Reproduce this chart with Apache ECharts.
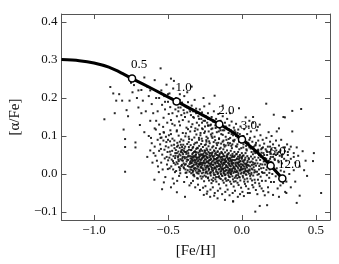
<!DOCTYPE html>
<html><head><meta charset="utf-8">
<script src="https://cdn.jsdelivr.net/npm/echarts@6/dist/echarts.min.js"></script>
<style>html,body{margin:0;padding:0;background:#fff}#c{width:339px;height:264px}</style>
</head><body><div id="c"></div>
<script>
// Model curve (thick black line)
const curveFeH   = [-1.22, -1.1, -1.0, -0.9, -0.8, -0.743, -0.6, -0.442, -0.3, -0.153, -0.07, 0.0, 0.1, 0.194, 0.273];
const curveAlpha = [0.301, 0.298, 0.292, 0.281, 0.263, 0.251, 0.223, 0.191, 0.162, 0.131, 0.112, 0.091, 0.058, 0.022, -0.012];
// Labelled time markers on the curve
const markFeH    = [-0.743, -0.442, -0.153, 0.0, 0.194, 0.273];
const markAlpha  = [0.251, 0.191, 0.131, 0.091, 0.022, -0.012];
const markLabels = ['0.5', '1.0', '2.0', '3.0', '6.0', '12.0'];
// Tick values
const xTickValues = [-1.0, -0.5, 0.0, 0.5];
const yTickValues = [-0.1, 0.0, 0.1, 0.2, 0.3, 0.4];
// Stars ([Fe/H], [alpha/Fe])
const starsCore = [
[-0.63,0.10],[-0.62,0.062],[-0.61,0.081],[-0.64,0.045],[-0.605,0.03],[-0.615,0.095],
[-0.59,0.072],[-0.585,0.048],[-0.57,0.09],[-0.592,-0.015],[-0.56,0.061],[-0.575,0.035],[-0.555,0.105],[-0.568,0.02],[-0.582,0.117],[-0.553,0.078],[-0.597,0.055],[-0.562,0.005],
[-0.54,-0.04],[-0.548,0.066],[-0.531,0.088],[-0.522,0.041],[-0.515,0.073],[-0.507,0.025],[-0.536,0.012],[-0.544,0.096],[-0.503,0.058],[-0.527,0.109],[-0.518,-0.008],[-0.511,0.084],[-0.539,0.051],[-0.546,0.03],[-0.501,0.013],[-0.524,0.064],[-0.533,0.124],[-0.509,0.045],[-0.514,0.098],[-0.528,-0.022],
[-0.48,-0.035],[-0.497,0.07],[-0.491,0.043],[-0.486,0.086],[-0.478,0.02],[-0.472,0.061],[-0.466,0.034],[-0.459,0.077],[-0.453,0.005],[-0.494,0.102],[-0.482,0.051],[-0.47,0.093],[-0.463,0.047],[-0.456,0.068],[-0.489,0.015],[-0.475,0.038],[-0.468,-0.012],[-0.451,0.055],[-0.484,0.115],[-0.461,0.029],[-0.457,0.088],[-0.499,0.036],[-0.476,0.075],[-0.465,0.012],[-0.452,0.042],[-0.487,0.059],[-0.471,0.132],[-0.46,-0.025],
[-0.44,-0.048],[-0.447,0.063],[-0.442,0.031],[-0.437,0.082],[-0.431,0.047],[-0.426,0.018],[-0.421,0.069],[-0.416,0.039],[-0.411,0.091],[-0.406,0.024],[-0.402,0.056],[-0.445,0.008],[-0.439,0.072],[-0.433,0.044],[-0.428,0.101],[-0.423,0.052],[-0.418,0.015],[-0.413,0.077],[-0.408,0.036],[-0.404,0.064],[-0.449,0.048],[-0.435,0.027],[-0.43,0.059],[-0.425,-0.005],[-0.42,0.085],[-0.415,0.049],[-0.41,0.021],[-0.405,0.071],[-0.441,0.112],[-0.427,0.034],[-0.419,0.128],[-0.412,0.058],[-0.438,-0.018],[-0.403,0.041],[-0.432,0.075],[-0.417,0.002],
[-0.385,-0.06],[-0.398,0.052],[-0.394,0.028],[-0.39,0.067],[-0.386,0.041],[-0.382,0.012],[-0.378,0.058],[-0.374,0.033],[-0.37,0.079],[-0.366,0.021],[-0.362,0.049],[-0.358,0.064],[-0.354,0.006],[-0.396,0.088],[-0.392,0.015],[-0.388,0.045],[-0.384,0.072],[-0.38,0.026],[-0.376,0.053],[-0.372,-0.008],[-0.368,0.061],[-0.364,0.037],[-0.36,0.084],[-0.356,0.019],[-0.352,0.047],[-0.399,0.035],[-0.391,-0.021],[-0.383,0.099],[-0.375,0.044],[-0.367,0.01],[-0.359,0.071],[-0.351,0.031],[-0.393,0.061],[-0.379,0.107],[-0.363,0.055],[-0.355,-0.03],[-0.387,0.024],[-0.371,0.038],[-0.357,0.092],[-0.381,0.003],[-0.365,0.118],[-0.397,0.077],
[-0.348,0.041],[-0.345,0.018],[-0.342,0.063],[-0.339,0.029],[-0.336,0.052],[-0.333,0.004],[-0.33,0.071],[-0.327,0.036],[-0.324,0.058],[-0.321,0.013],[-0.318,0.047],[-0.315,0.082],[-0.312,0.025],[-0.309,0.066],[-0.306,0.039],[-0.303,-0.011],[-0.347,0.076],[-0.344,-0.024],[-0.341,0.046],[-0.338,0.09],[-0.335,0.021],[-0.332,0.055],[-0.329,-0.003],[-0.326,0.043],[-0.323,0.078],[-0.32,0.031],[-0.317,0.06],[-0.314,0.009],[-0.311,0.051],[-0.308,0.104],[-0.305,0.027],[-0.302,0.069],[-0.346,0.034],[-0.34,0.011],[-0.334,0.068],[-0.328,0.022],[-0.322,0.096],[-0.316,-0.035],[-0.31,0.044],[-0.304,0.083],[-0.343,0.124],[-0.337,0.038],[-0.331,-0.018],[-0.325,0.015],[-0.319,0.113],[-0.313,0.035],[-0.307,0.057],[-0.301,0.002],
[-0.298,0.033],[-0.295,0.056],[-0.292,0.012],[-0.289,0.074],[-0.286,0.027],[-0.283,0.048],[-0.28,-0.006],[-0.277,0.065],[-0.274,0.02],[-0.271,0.041],[-0.268,0.087],[-0.265,0.015],[-0.262,0.053],[-0.259,0.031],[-0.256,-0.019],[-0.253,0.062],[-0.297,-0.028],[-0.294,0.043],[-0.291,0.095],[-0.288,0.024],[-0.285,0.059],[-0.282,0.007],[-0.279,0.037],[-0.276,0.079],[-0.273,-0.012],[-0.27,0.05],[-0.267,0.029],[-0.264,0.071],[-0.261,0.004],[-0.258,0.045],[-0.255,0.108],[-0.252,0.022],[-0.299,0.068],[-0.293,0.001],[-0.287,0.039],[-0.281,0.102],[-0.275,0.016],[-0.269,0.061],[-0.263,-0.036],[-0.257,0.035],[-0.251,0.076],[-0.296,0.019],[-0.29,0.051],[-0.284,-0.042],[-0.278,0.026],[-0.272,0.093],[-0.266,0.044],[-0.26,0.011],[-0.254,0.057],[-0.3,0.117],[-0.27,0.135],[-0.258,-0.055],
[-0.248,0.028],[-0.245,0.049],[-0.242,0.006],[-0.239,0.067],[-0.236,0.021],[-0.233,0.042],[-0.23,-0.011],[-0.227,0.058],[-0.224,0.014],[-0.221,0.036],[-0.218,0.081],[-0.215,0.003],[-0.212,0.047],[-0.209,0.025],[-0.206,-0.024],[-0.203,0.055],[-0.247,-0.032],[-0.244,0.038],[-0.241,0.089],[-0.238,0.017],[-0.235,0.052],[-0.232,0.001],[-0.229,0.031],[-0.226,0.073],[-0.223,-0.017],[-0.22,0.044],[-0.217,0.022],[-0.214,0.064],[-0.211,-0.004],[-0.208,0.039],[-0.205,0.099],[-0.202,0.016],[-0.249,0.061],[-0.243,-0.007],[-0.237,0.033],[-0.231,0.094],[-0.225,0.009],[-0.219,0.054],[-0.213,-0.041],[-0.207,0.029],[-0.201,0.07],[-0.246,0.012],[-0.24,0.045],[-0.234,-0.046],[-0.228,0.019],[-0.222,0.086],[-0.216,0.037],[-0.21,0.005],[-0.204,0.05],[-0.25,0.112],[-0.228,0.127],[-0.215,-0.06],[-0.238,-0.052],[-0.207,0.118],[-0.244,0.078],
[-0.198,0.024],[-0.195,0.046],[-0.192,0.003],[-0.189,0.062],[-0.186,0.018],[-0.183,0.039],[-0.18,-0.014],[-0.177,0.055],[-0.174,0.011],[-0.171,0.033],[-0.168,0.076],[-0.165,0.0],[-0.162,0.043],[-0.159,0.021],[-0.156,-0.027],[-0.153,0.051],[-0.197,-0.035],[-0.194,0.035],[-0.191,0.084],[-0.188,0.014],[-0.185,0.048],[-0.182,-0.002],[-0.179,0.027],[-0.176,0.068],[-0.173,-0.02],[-0.17,0.04],[-0.167,0.019],[-0.164,0.06],[-0.161,-0.008],[-0.158,0.035],[-0.155,0.094],[-0.152,0.013],[-0.199,0.057],[-0.193,-0.01],[-0.187,0.03],[-0.181,0.089],[-0.175,0.006],[-0.169,0.05],[-0.163,-0.044],[-0.157,0.026],[-0.151,0.066],[-0.196,0.009],[-0.19,0.041],[-0.184,-0.05],[-0.178,0.016],[-0.172,0.081],[-0.166,0.034],[-0.16,0.002],[-0.154,0.047],[-0.2,0.107],[-0.178,0.121],[-0.165,-0.064],[-0.188,-0.057],[-0.157,0.112],[-0.194,0.073],
[-0.148,0.021],[-0.145,0.043],[-0.142,0.0],[-0.139,0.058],[-0.136,0.015],[-0.133,0.036],[-0.13,-0.017],[-0.127,0.052],[-0.124,0.008],[-0.121,0.03],[-0.118,0.072],[-0.115,-0.003],[-0.112,0.04],[-0.109,0.018],[-0.106,-0.03],[-0.103,0.048],[-0.147,-0.038],[-0.144,0.032],[-0.141,0.08],[-0.138,0.011],[-0.135,0.045],[-0.132,-0.005],[-0.129,0.024],[-0.126,0.065],[-0.123,-0.023],[-0.12,0.037],[-0.117,0.016],[-0.114,0.057],[-0.111,-0.011],[-0.108,0.032],[-0.105,0.09],[-0.102,0.01],[-0.149,0.054],[-0.143,-0.013],[-0.137,0.027],[-0.131,0.085],[-0.125,0.003],[-0.119,0.047],[-0.113,-0.047],[-0.107,0.023],[-0.101,0.062],[-0.146,0.006],[-0.14,0.038],[-0.134,-0.053],[-0.128,0.013],[-0.122,0.077],[-0.116,0.031],[-0.11,-0.001],[-0.104,0.044],[-0.13,0.103],[-0.115,-0.068],[-0.144,0.069],
[-0.098,0.018],[-0.095,0.04],[-0.092,-0.003],[-0.089,0.055],[-0.086,0.012],[-0.083,0.033],[-0.08,-0.02],[-0.077,0.049],[-0.074,0.005],[-0.071,0.027],[-0.068,0.068],[-0.065,-0.006],[-0.062,0.037],[-0.059,0.015],[-0.056,-0.033],[-0.053,0.045],[-0.097,-0.041],[-0.094,0.029],[-0.091,0.076],[-0.088,0.008],[-0.085,0.042],[-0.082,-0.008],[-0.079,0.021],[-0.076,0.061],[-0.073,-0.026],[-0.07,0.034],[-0.067,0.013],[-0.064,0.053],[-0.061,-0.014],[-0.058,0.029],[-0.055,0.086],[-0.052,0.007],[-0.099,0.051],[-0.093,-0.016],[-0.087,0.024],[-0.081,0.081],[-0.075,0.0],[-0.069,0.044],[-0.063,-0.05],[-0.057,0.02],[-0.051,0.058],[-0.096,0.003],[-0.09,0.035],[-0.084,-0.056],[-0.06,-0.072],[-0.078,0.01],[-0.072,0.074],[-0.066,0.028],
[-0.048,0.015],[-0.045,0.037],[-0.042,-0.006],[-0.039,0.052],[-0.036,0.009],[-0.033,0.03],[-0.03,-0.023],[-0.027,0.046],[-0.024,0.002],[-0.021,0.024],[-0.018,0.065],[-0.015,-0.009],[-0.012,0.034],[-0.009,0.012],[-0.006,-0.036],[-0.003,0.042],[-0.047,-0.044],[-0.044,0.026],[-0.041,0.073],[-0.038,0.005],[-0.035,0.039],[-0.032,-0.011],[-0.029,0.018],[-0.026,0.058],[-0.023,-0.029],[-0.02,0.031],[-0.017,0.01],[-0.014,0.05],[-0.011,-0.017],[-0.008,0.026],[-0.005,0.083],[-0.002,0.004],[-0.049,0.048],[-0.043,-0.019],[-0.037,0.021],[-0.031,0.078],[-0.025,-0.003],[-0.019,0.041],[-0.013,-0.053],[-0.007,0.017],[-0.001,0.055],[-0.028,-0.06],
[0.002,0.012],[0.005,0.034],[0.008,-0.009],[0.011,0.049],[0.014,0.006],[0.017,0.027],[0.02,-0.026],[0.023,0.043],[0.026,-0.001],[0.029,0.021],[0.032,0.062],[0.035,-0.012],[0.038,0.031],[0.041,0.009],[0.044,-0.039],[0.047,0.039],[0.003,-0.047],[0.006,0.023],[0.009,0.07],[0.012,0.002],[0.015,0.036],[0.018,-0.014],[0.021,0.015],[0.024,0.055],[0.027,-0.032],[0.03,0.028],[0.033,0.007],[0.036,0.047],[0.039,-0.02],[0.042,0.023],[0.045,0.08],[0.048,0.001],[0.001,0.045],[0.013,-0.058],[0.028,0.074],[0.04,-0.05],
[0.052,0.009],[0.055,0.031],[0.058,-0.012],[0.061,0.046],[0.064,0.003],[0.067,0.024],[0.07,-0.029],[0.073,0.04],[0.076,-0.004],[0.079,0.018],[0.082,0.059],[0.085,-0.015],[0.088,0.028],[0.091,0.006],[0.094,-0.042],[0.097,0.036],[0.053,-0.05],[0.056,0.02],[0.059,0.067],[0.062,-0.001],[0.065,0.033],[0.068,-0.017],[0.071,0.012],[0.074,0.052],[0.077,-0.035],[0.08,0.025],[0.083,0.004],[0.086,0.044],[0.089,-0.023],[0.092,0.077],
[0.102,0.006],[0.105,0.028],[0.108,-0.015],[0.111,0.043],[0.114,0.0],[0.117,0.021],[0.12,-0.032],[0.123,0.037],[0.126,-0.007],[0.129,0.015],[0.132,0.056],[0.135,-0.018],[0.138,0.025],[0.141,0.003],[0.144,-0.045],[0.147,0.033],[0.104,-0.053],[0.11,0.064],[0.116,-0.025],[0.125,0.049],[0.133,-0.038],[0.142,0.07],
[0.152,0.003],[0.156,0.025],[0.16,-0.018],[0.164,0.04],[0.168,-0.003],[0.172,0.018],[0.176,-0.035],[0.18,0.034],[0.184,-0.01],[0.188,0.012],[0.192,0.053],[0.196,-0.021],[0.154,-0.056],[0.166,0.061],[0.178,-0.048],[0.19,0.072],
[0.205,0.0],[0.21,0.022],[0.216,-0.021],[0.222,0.037],[0.228,-0.006],[0.235,0.015],[0.241,-0.038],[0.248,0.031],[0.255,-0.013],[0.262,0.009],[0.27,0.05],[0.278,-0.024],[0.285,0.006],[0.292,-0.047],[0.21,-0.055],[0.232,0.062]
];
const starsDense = [
[-0.349,0.012],[-0.346,0.028],[-0.343,0.002],[-0.34,0.04],[-0.337,0.019],[-0.334,0.034],[-0.331,0.008],[-0.328,0.047],[-0.325,0.025],[-0.322,-0.006],[-0.319,0.037],[-0.316,0.016],[-0.313,0.051],[-0.31,0.03],[-0.307,0.004],[-0.304,0.043],[-0.301,0.021],[-0.298,-0.012],[-0.295,0.036],[-0.292,0.026],[-0.289,0.045],[-0.286,0.009],[-0.283,0.031],[-0.28,0.018],[-0.277,0.052],[-0.274,0.038],[-0.271,0.002],[-0.268,0.024],[-0.265,0.043],[-0.262,0.011],[-0.259,0.048],[-0.256,0.028],[-0.253,-0.004],[-0.25,0.039],[-0.247,0.017],[-0.244,0.055],[-0.241,0.031],[-0.238,0.006],[-0.235,0.044],[-0.232,0.022],[-0.229,-0.009],[-0.226,0.035],[-0.223,0.013],[-0.22,0.049],[-0.217,0.027],[-0.214,0.001],[-0.211,0.041],[-0.208,0.019],[-0.205,-0.015],[-0.202,0.033],[-0.199,0.009],[-0.196,0.046],[-0.193,0.024],[-0.19,-0.002],[-0.187,0.038],[-0.184,0.016],[-0.181,0.053],[-0.178,0.03],[-0.175,-0.008],[-0.172,0.021],[-0.169,0.042],[-0.166,0.005],[-0.163,0.029],[-0.16,0.048],[-0.157,0.012],[-0.154,0.036],[-0.151,-0.011],[-0.148,0.025],[-0.145,0.044],[-0.142,0.007],[-0.139,0.032],[-0.136,-0.004],[-0.133,0.02],[-0.13,0.04],[-0.127,0.014],[-0.124,0.047],[-0.121,0.001],[-0.118,0.026],[-0.115,0.037],[-0.112,-0.013],[-0.109,0.01],[-0.106,0.034],[-0.103,0.022],[-0.1,0.045],[-0.097,0.004],[-0.094,0.017],[-0.091,0.039],[-0.088,-0.007],[-0.085,0.027],[-0.082,0.013],[-0.079,0.041],[-0.076,0.02],[-0.073,-0.001],[-0.07,0.032],[-0.067,0.008],[-0.064,0.024],[-0.061,0.046],[-0.058,0.003],[-0.055,0.018],[-0.052,0.036],[-0.049,-0.01],[-0.046,0.012],[-0.043,0.03],[-0.04,0.022],[-0.037,-0.003],[-0.034,0.041],[-0.031,0.006],[-0.028,0.027],[-0.025,0.015],[-0.022,0.038],[-0.019,-0.008],[-0.016,0.021],[-0.013,0.009],[-0.01,0.033],[-0.007,0.001],[-0.004,0.019],[-0.001,0.04],[0.002,0.025],[0.005,-0.005],[0.008,0.014],[0.011,0.031],[0.014,0.02],[0.017,0.004],[0.02,0.038],[0.023,0.011],[0.026,0.026],[0.03,-0.002],[0.034,0.017],[0.038,0.035],[0.042,0.005],[0.046,0.022],[0.05,0.012],
[-0.45,0.025],[-0.44,0.055],[-0.43,0.038],[-0.42,0.01],[-0.41,0.062],[-0.4,0.045],[-0.395,0.018],[-0.385,0.058],[-0.375,0.004],[-0.365,0.046],[-0.355,0.026],[-0.345,0.063],[-0.335,0.044],[-0.325,-0.002],[-0.315,0.058],[-0.305,0.014],[-0.295,0.007],[-0.285,0.062],[-0.275,0.03],[-0.265,-0.007],[-0.255,0.047],[-0.245,0.003],[-0.235,0.063],[-0.225,0.028],[-0.215,0.055],[-0.205,0.012],[-0.195,-0.018],[-0.185,0.06],[-0.175,0.039],[-0.165,0.058],[-0.155,-0.006],[-0.145,0.017],[-0.135,0.055],[-0.125,0.029],[-0.115,0.007],[-0.105,-0.018],[-0.095,0.052],[-0.085,0.003],[-0.075,0.037],[-0.065,0.048],[-0.055,-0.02],[-0.045,0.005],[-0.035,0.053],[-0.025,0.03],[-0.015,0.045],[-0.005,0.012],[0.005,0.048],[0.015,-0.02],[0.025,0.008],[0.035,0.024],[0.045,0.042],[0.055,-0.005],[0.065,0.014],[0.075,0.03],[0.085,0.01],[0.095,0.022],[0.105,-0.002],[0.115,0.012],[0.125,0.026],[0.135,0.005],[0.145,0.016],[0.155,0.035],[0.165,0.011],[0.175,0.026],[0.185,0.003],[0.195,0.032]
];
const starsUpper = [
[-0.89,0.229],[-0.87,0.212],[-0.73,0.234],[-0.81,0.193],[-0.78,0.168],[-0.93,0.144],[-0.85,0.193],[-0.76,0.193],[-0.67,0.193],[-0.8,0.117],[-0.69,0.129],[-0.66,0.254],[-0.59,0.247],[-0.55,0.278],[-0.48,0.251],[-0.79,0.092],[-0.79,0.071],[-0.79,0.006],[-0.72,0.083],[-0.72,0.07],[-0.83,0.21],[-0.74,0.215],[-0.7,0.175],[-0.68,0.221],[-0.65,0.165],[-0.63,0.205],[-0.62,0.14],[-0.77,0.152],[-0.71,0.2],[-0.64,0.23],[-0.61,0.184],[-0.66,0.11],[-0.86,0.16],[-0.75,0.24],
[-0.58,0.2],[-0.57,0.165],[-0.56,0.13],[-0.545,0.22],[-0.54,0.182],[-0.53,0.148],[-0.525,0.205],[-0.52,0.17],[-0.51,0.235],[-0.505,0.135],[-0.5,0.19],[-0.495,0.158],[-0.49,0.212],[-0.485,0.176],[-0.48,0.142],[-0.475,0.198],[-0.47,0.16],[-0.465,0.225],[-0.46,0.186],[-0.455,0.128],[-0.45,0.17],[-0.445,0.2],[-0.44,0.152],[-0.435,0.185],[-0.43,0.165],[-0.425,0.138],[-0.42,0.195],[-0.415,0.175],[-0.41,0.155],[-0.405,0.188],[-0.4,0.142],[-0.395,0.168],[-0.39,0.205],[-0.385,0.15],[-0.38,0.177],[-0.375,0.122],[-0.37,0.162],[-0.365,0.189],[-0.36,0.138],[-0.355,0.17],[-0.35,0.112],[-0.345,0.155],[-0.34,0.18],[-0.335,0.131],[-0.33,0.165],[-0.325,0.148],[-0.32,0.195],[-0.315,0.12],[-0.31,0.16],[-0.305,0.135],[-0.44,0.115],[-0.48,0.105],[-0.53,0.11],[-0.4,0.108],[-0.36,0.098],[-0.5,0.09],[-0.42,0.21],[-0.37,0.215],[-0.46,0.245],[-0.34,0.23],[-0.6,0.16],[-0.59,0.12],[-0.55,0.095],
[-0.295,0.152],[-0.29,0.128],[-0.285,0.17],[-0.28,0.108],[-0.275,0.145],[-0.27,0.162],[-0.265,0.118],[-0.26,0.14],[-0.255,0.178],[-0.25,0.125],[-0.245,0.152],[-0.24,0.098],[-0.235,0.135],[-0.23,0.16],[-0.225,0.112],[-0.22,0.145],[-0.215,0.128],[-0.21,0.104],[-0.205,0.15],[-0.2,0.12],[-0.195,0.138],[-0.19,0.165],[-0.185,0.098],[-0.18,0.128],[-0.175,0.145],[-0.17,0.11],[-0.165,0.132],[-0.16,0.158],[-0.155,0.092],[-0.15,0.12],[-0.145,0.14],[-0.14,0.105],[-0.135,0.127],[-0.13,0.152],[-0.125,0.088],[-0.12,0.115],[-0.115,0.135],[-0.11,0.098],[-0.105,0.122],[-0.1,0.145],[-0.095,0.082],[-0.09,0.108],[-0.085,0.128],[-0.08,0.095],[-0.075,0.115],[-0.07,0.138],[-0.065,0.078],[-0.06,0.102],[-0.055,0.122],[-0.05,0.09],[-0.045,0.11],[-0.04,0.132],[-0.035,0.072],[-0.03,0.096],[-0.025,0.117],[-0.02,0.085],[-0.015,0.105],[-0.01,0.125],[-0.005,0.068],[-0.185,0.206],[-0.02,0.173],[-0.26,0.2],[-0.13,0.18],[-0.08,0.16],[-0.22,0.185],[-0.29,0.09],[-0.24,0.085],[-0.16,0.082],[-0.11,0.075],[-0.27,0.12],[-0.2,0.095],[-0.145,0.115],[-0.06,0.088],[-0.17,0.13],[-0.23,0.128],[-0.09,0.092],[-0.04,0.1],
[-0.43,0.175],[-0.41,0.185],[-0.39,0.16],[-0.37,0.175],[-0.35,0.165],[-0.33,0.15],[-0.31,0.172],[-0.29,0.145],[-0.27,0.155],[-0.25,0.14],[-0.23,0.145],[-0.21,0.13],[-0.19,0.14],[-0.17,0.125],[-0.15,0.135],[-0.13,0.115],[-0.11,0.125],[-0.09,0.118],[-0.07,0.105],[-0.05,0.115],[-0.03,0.108],[-0.01,0.095],[0.01,0.1],[0.03,0.085],[0.05,0.09],[0.07,0.07],[0.09,0.075],[0.11,0.06],[0.13,0.065],[0.15,0.05],[0.17,0.058],[0.19,0.04],[0.21,0.045],[0.23,0.05],[0.25,0.058],[0.27,0.045],[0.29,0.07],[0.31,0.058],[0.33,0.072],[0.35,0.045],[-0.52,0.19],[-0.5,0.21],[-0.56,0.2],[-0.62,0.22],[-0.7,0.22],[-0.68,0.16],[-0.58,0.14],
[0.005,0.1],[0.01,0.078],[0.015,0.118],[0.02,0.088],[0.025,0.149],[0.03,0.065],[0.035,0.105],[0.04,0.082],[0.045,0.125],[0.05,0.07],[0.055,0.095],[0.06,0.112],[0.065,0.058],[0.07,0.085],[0.075,0.135],[0.08,0.072],[0.085,0.098],[0.09,0.055],[0.095,0.082],[0.1,0.115],[0.105,0.062],[0.107,0.124],[0.11,0.088],[0.115,0.05],[0.12,0.075],[0.125,0.102],[0.13,0.045],[0.135,0.068],[0.14,0.09],[0.145,0.055],[0.15,0.08],[0.155,0.042],[0.16,0.065],[0.164,0.185],[0.165,0.095],[0.17,0.05],[0.175,0.072],[0.18,0.035],[0.185,0.058],[0.19,0.085],[0.195,0.045],[0.2,0.065],[0.205,0.03],[0.21,0.078],[0.215,0.052],[0.215,0.156],[0.22,0.04],[0.225,0.068],[0.23,0.088],[0.235,0.112],[0.24,0.055],[0.245,0.035],[0.25,0.075],[0.255,0.048],[0.26,0.062],[0.265,0.09],[0.27,0.028],[0.275,0.052],[0.28,0.15],[0.28,0.07],[0.285,0.04],[0.29,0.149],[0.29,0.06],[0.3,0.035],[0.305,0.078],[0.31,0.05],[0.32,0.065],[0.33,0.04],[0.34,0.112],[0.34,0.166],[0.35,0.055],[0.36,0.03],[0.37,0.07],[0.38,0.048],[0.39,0.02],[0.4,0.171],[0.41,0.06],[0.43,0.035],[0.486,0.055],[0.48,0.034],[0.535,-0.05],[0.39,-0.057],[0.37,-0.076],[0.09,-0.099],[0.17,-0.082],[0.12,-0.084],[-0.06,-0.072],[0.32,0.0],[0.3,-0.02],[0.33,-0.035],[0.35,0.01],[0.25,-0.06],[0.26,-0.03],[0.3,-0.05],[0.28,-0.005],[0.36,-0.02],[0.42,0.01],[0.44,-0.005],[0.075,0.15],[0.12,0.13],[0.05,0.14],[0.18,0.11],[0.2,0.1],[0.25,0.12]
];

const serif = '"Liberation Serif","DejaVu Serif",serif';
const fmt = v => Number(v).toFixed(1).replace('-', '\u2212');
const curve = curveFeH.map((x, i) => [x, curveAlpha[i]]);
const marks = markFeH.map((x, i) => ({ value: [x, markAlpha[i]], name: markLabels[i] }));
const stars = starsCore.concat(starsDense, starsUpper);

const axisLine = { show: true, onZero: false, lineStyle: { color: '#555', width: 1 } };
function xAx(pos, showLabel) {
  return {
    type: 'value', position: pos, min: -1.22, max: 0.595,
    axisLine: axisLine, splitLine: { show: false },
    axisTick: { show: true, inside: true, length: 5, customValues: xTickValues, lineStyle: { color: '#555' } },
    axisLabel: { show: showLabel, customValues: xTickValues, formatter: fmt, fontFamily: serif, fontSize: 13, color: '#111', margin: 4 },
    name: showLabel ? '[Fe/H]' : '', nameLocation: 'middle', nameGap: 24,
    nameTextStyle: { fontFamily: serif, fontSize: 15, color: '#111' }
  };
}
function yAx(pos, showLabel) {
  return {
    type: 'value', position: pos, min: -0.121, max: 0.421,
    axisLine: axisLine, splitLine: { show: false },
    axisTick: { show: true, inside: true, length: 5, customValues: yTickValues, lineStyle: { color: '#555' } },
    axisLabel: { show: showLabel, customValues: yTickValues, formatter: fmt, fontFamily: serif, fontSize: 13, color: '#111', margin: 4 },
    name: showLabel ? '[\u03b1/Fe]' : '', nameLocation: 'middle', nameGap: 30,
    nameTextStyle: { fontFamily: serif, fontSize: 15, color: '#111' }
  };
}

const chart = echarts.init(document.getElementById('c'), null, { renderer: 'canvas' });
chart.setOption({
  animation: false,
  backgroundColor: '#fff',
  grid: { left: 43, right: 9, top: 14, bottom: 29 },
  xAxis: [xAx('bottom', true), xAx('top', false)],
  yAxis: [yAx('left', true), yAx('right', false)],
  series: [
    { type: 'scatter', data: stars, symbol: 'rect', symbolSize: 2, silent: true,
      itemStyle: { color: '#111', opacity: 0.9 }, z: 2 },
    { type: 'line', data: curve, smooth: 0.3, showSymbol: false, silent: true,
      lineStyle: { color: '#000', width: 3 }, z: 3 },
    { type: 'scatter', data: marks, symbol: 'circle', symbolSize: 7, silent: true,
      itemStyle: { color: '#fff', borderColor: '#000', borderWidth: 1.5, opacity: 1 }, z: 4,
      label: { show: true, position: 'top', distance: 1, offset: [7, -2], formatter: p => p.name,
        fontFamily: serif, fontSize: 13, color: '#000', opacity: 1, textBorderWidth: 0 } }
  ]
});
</script></body></html>
